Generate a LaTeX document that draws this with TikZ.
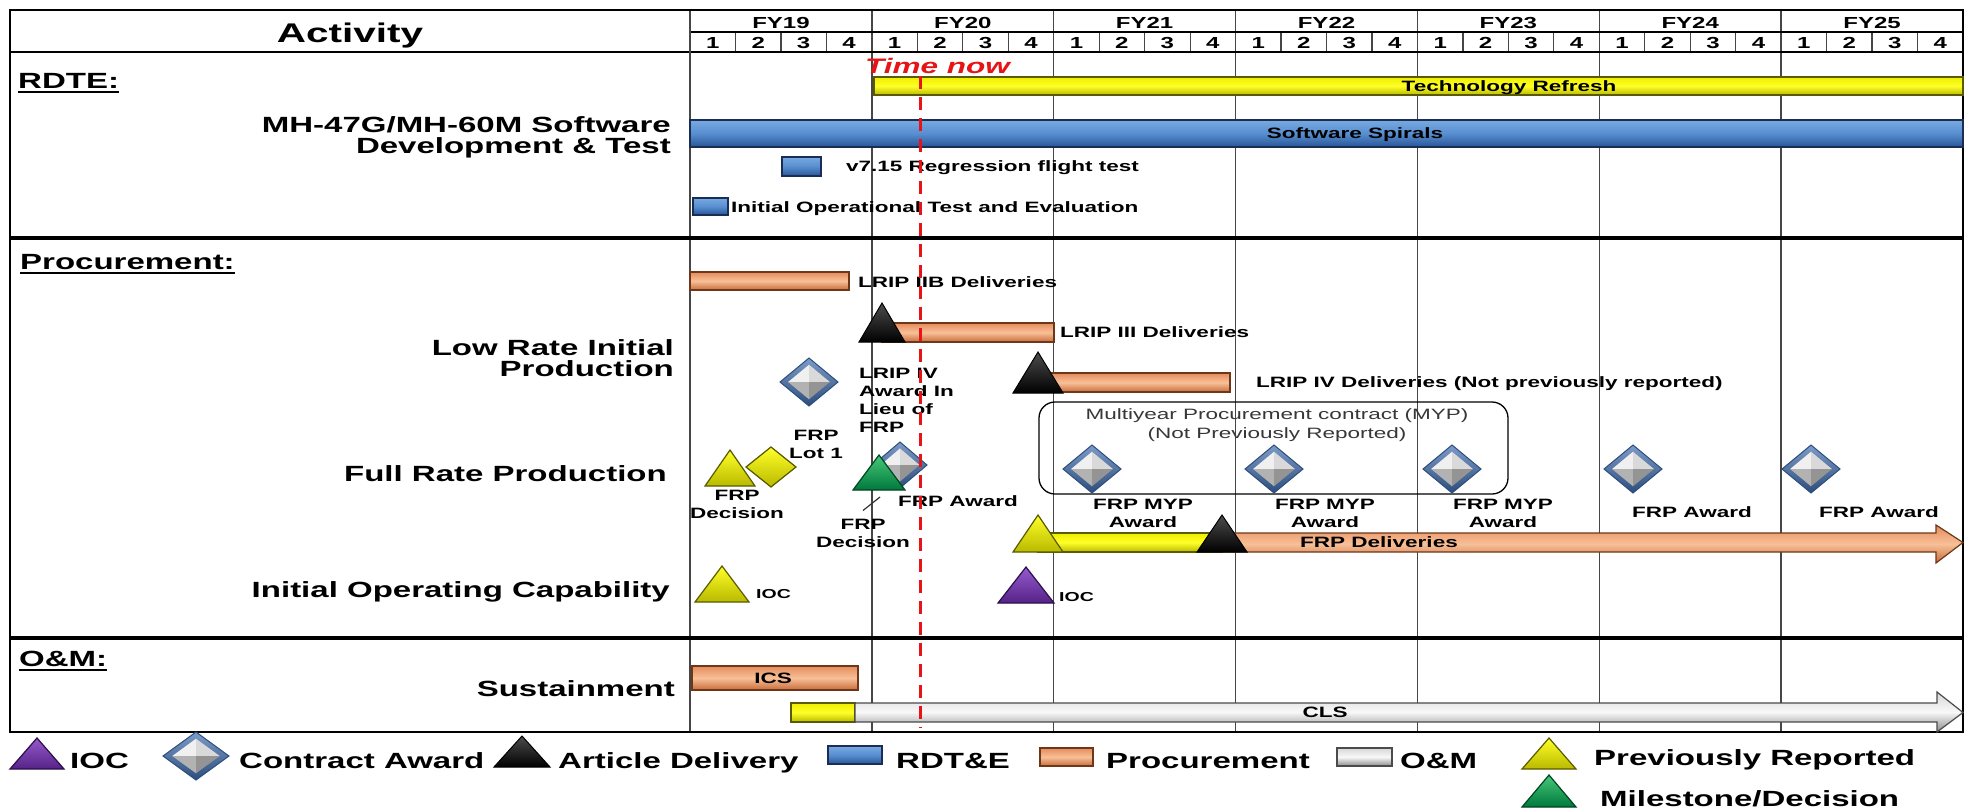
\documentclass[tikz,border=0pt]{standalone}
\usepackage{fontspec}
\setmainfont{Liberation Sans}[FakeStretch=1.5]
\usetikzlibrary{calc}

% bar and marker colours
\definecolor{gridgray}{RGB}{70,70,70}
\definecolor{oTop}{RGB}{228,140,90}
\definecolor{oMid}{RGB}{248,192,152}
\definecolor{oBot}{RGB}{200,108,58}
\definecolor{oEdge}{RGB}{110,55,25}
\definecolor{bTop}{RGB}{120,170,225}
\definecolor{bMid}{RGB}{88,142,208}
\definecolor{bBot}{RGB}{40,85,150}
\definecolor{bEdge}{RGB}{25,45,85}
\definecolor{yTop}{RGB}{238,238,0}
\definecolor{yMid}{RGB}{255,255,40}
\definecolor{yBot}{RGB}{185,185,0}
\definecolor{yEdge}{RGB}{90,90,0}
\definecolor{gTop}{RGB}{215,215,215}
\definecolor{gMid}{RGB}{248,248,248}
\definecolor{gBot}{RGB}{140,140,140}
\definecolor{gEdge}{RGB}{75,75,75}
\definecolor{nowred}{RGB}{230,20,20}
\definecolor{ringTop}{RGB}{125,155,200}
\definecolor{ringBot}{RGB}{45,78,125}
\definecolor{grnTop}{RGB}{70,200,120}
\definecolor{grnBot}{RGB}{0,120,60}
\definecolor{grnEdge}{RGB}{0,70,35}
\definecolor{purTop}{RGB}{150,90,205}
\definecolor{purBot}{RGB}{85,35,135}
\definecolor{purEdge}{RGB}{45,15,75}
\definecolor{mypgray}{RGB}{55,55,55}

\tikzset{
  frame/.style={draw=black, line width=2pt},
  yearline/.style={draw=gridgray, line width=1.5pt},
  qline/.style={draw=gridgray, line width=1.2pt},
  rowline/.style={draw=black, line width=1.5pt},
  secline/.style={draw=black, line width=4.5pt},
  acttitle/.style={inner sep=0pt, anchor=base, font=\bfseries\fontsize{27}{30}\selectfont},
  hdr/.style={inner sep=0pt, anchor=base, font=\bfseries\fontsize{16}{18}\selectfont},
  sect/.style={inner sep=0pt, anchor=base west, font=\bfseries\fontsize{22}{24}\selectfont},
  actlbl/.style={inner sep=0pt, anchor=base east, align=right, font=\bfseries\fontsize{22}{21}\selectfont},
  lbl/.style={inner sep=0pt, font=\bfseries\fontsize{15}{18}\selectfont},
  legtxt/.style={inner sep=0pt, anchor=base west, font=\bfseries\fontsize{22}{24}\selectfont},
  barO/.style={draw=oEdge, line width=1.2pt, top color=oTop, bottom color=oBot, middle color=oMid},
  barB/.style={draw=bEdge, line width=1.2pt, top color=bTop, bottom color=bBot, middle color=bMid},
  barY/.style={draw=yEdge, line width=1.2pt, top color=yTop, bottom color=yBot, middle color=yMid},
  barG/.style={draw=gEdge, line width=1.2pt, top color=gTop, bottom color=gBot, middle color=gMid},
  triY/.style={draw=yEdge, line width=1.2pt, top color=yMid, bottom color=yBot},
  triK/.style={draw=black, line width=1pt, top color=black!70, bottom color=black},
  triG/.style={draw=grnEdge, line width=1.2pt, top color=grnTop, bottom color=grnBot},
  triP/.style={draw=purEdge, line width=1.2pt, top color=purTop, bottom color=purBot},
  diaring/.style={draw=ringBot, line width=1pt, top color=ringTop, bottom color=ringBot},
  diaY/.style={draw=yEdge, line width=1.2pt, top color=yMid, bottom color=yBot},
  nowline/.style={draw=nowred, line width=3pt, dash pattern=on 13pt off 8pt},
  leader/.style={draw=black!80, line width=1.2pt},
  mypbox/.style={draw=black, line width=1.3pt, rounded corners=16pt}
}

% milestone triangle: apex x, apex y, base y, half width, style
\newcommand\mstri[5]{\path[#5] (#1,#2) -- ({#1+#4},#3) -- ({#1-#4},#3) -- cycle;}
% contract award diamond: centre x, centre y, half width, half height
\newcommand\awd[4]{%
  \path[diaring] (#1,{#2-#4}) -- ({#1+#3},#2) -- (#1,{#2+#4}) -- ({#1-#3},#2) -- cycle;
  \fill[black!6]  (#1,#2) -- (#1,{#2-0.72*#4}) -- ({#1-0.72*#3},#2) -- cycle;
  \fill[black!15] (#1,#2) -- (#1,{#2-0.72*#4}) -- ({#1+0.72*#3},#2) -- cycle;
  \fill[black!30] (#1,#2) -- (#1,{#2+0.72*#4}) -- ({#1-0.72*#3},#2) -- cycle;
  \fill[black!42] (#1,#2) -- (#1,{#2+0.72*#4}) -- ({#1+0.72*#3},#2) -- cycle;}
% arrow bar: x start, tip x, top, bottom, head start x, head top, head bottom, style
\newcommand\arrowbar[8]{\path[#8] (#1,#3) -- (#5,#3) -- (#5,#6) -- (#2,{(#3+#4)/2}) -- (#5,#7) -- (#5,#4) -- (#1,#4) -- cycle;}

\begin{document}
\begin{tikzpicture}[x=1pt,y=-1pt]
\useasboundingbox (0,0) rectangle (1967,809);
\fill[white] (0,0) rectangle (1967,809);

% ---------- grid ----------
\foreach \i in {1,...,6}
  \draw[yearline] ({690+181.857*\i},10) -- ({690+181.857*\i},732);
\foreach \q in {1,...,27} {
  \pgfmathtruncatemacro\r{mod(\q,4)}
  \ifnum\r>0 \draw[qline] ({690+45.464*\q},32) -- ({690+45.464*\q},52); \fi
}
\draw[rowline] (10,52) -- (1963,52);
\draw[rowline] (690,32) -- (1963,32);
\draw[yearline] (690,10) -- (690,732);
\draw[secline] (10,238) -- (1963,238);
\draw[secline] (10,638) -- (1963,638);
\draw[frame] (10,10) rectangle (1963,732);

% ---------- header ----------
\node[acttitle] (activity) at (350,42) {Activity};
\foreach \y [count=\i from 0] in {19,...,25}
  \node[hdr] (fy\y) at ({690+181.857*(\i+0.5)},28) {FY\y};
\foreach \q in {0,...,27} {
  \pgfmathtruncatemacro\n{mod(\q,4)+1}
  \node[hdr] (qtr\q) at ({690+45.464*(\q+0.5)},48) {\n};
}

% ---------- section titles ----------
\node[sect] (rdte) at (18,88) {RDTE:};
\draw[line width=2pt] (rdte.base west) ++(0,3.5) -- ($(rdte.base east)+(0,3.5)$);
\node[sect] (proc) at (20,269) {Procurement:};
\draw[line width=2pt] (proc.base west) ++(0,3.5) -- ($(proc.base east)+(0,3.5)$);
\node[sect] (om) at (19,666) {O\&M:};
\draw[line width=2pt] (om.base west) ++(0,3.5) -- ($(om.base east)+(0,3.5)$);

% ---------- activity names (multi-line nodes sit on their last baseline) ----------
\node[actlbl] (swdev) at (671,153) {MH-47G/MH-60M Software\\Development \& Test};
\node[actlbl] (lrip) at (674,376) {Low Rate Initial\\Production};
\node[actlbl] (frp) at (667,481) {Full Rate Production};
\node[actlbl] (ioc) at (670,597) {Initial Operating Capability};
\node[actlbl] (sust) at (675,696) {Sustainment};

% ---------- RDTE ----------
\path[barY] (874,77) rectangle (1963,95);
\node[lbl, anchor=base] (techref) at (1509,91.5) {Technology Refresh};
\path[barB] (690,120) rectangle (1963,147);
\node[lbl, anchor=base] (spirals) at (1355,138) {Software Spirals};
\path[barB] (782,157) rectangle (821,176);
\node[lbl, anchor=base west] (regr) at (846,171) {v7.15 Regression flight test};
\path[barB] (693,198) rectangle (728,215);
\node[lbl, anchor=base west] (iote) at (731,212) {Initial Operational Test and Evaluation};

% ---------- Procurement: LRIP ----------
\path[barO] (690,272) rectangle (849,290);
\node[lbl, anchor=base west] (lripiib) at (858,287) {LRIP IIB Deliveries};
\path[barO] (882,323) rectangle (1054,342);
\mstri{882}{303}{342}{23}{triK}
\node[lbl, anchor=base west] (lripiii) at (1060,337) {LRIP III Deliveries};
\path[barO] (1038,373) rectangle (1230,392);
\mstri{1038}{352}{393}{25}{triK}
\node[lbl, anchor=base west] (lripiv) at (1256,387) {LRIP IV Deliveries (Not previously reported)};
\awd{809}{382}{29}{24}
\node[lbl, anchor=base west, align=left] (lripaward) at (859,432) {LRIP IV\\Award In\\Lieu of\\FRP};

% ---------- Procurement: FRP ----------
\node[lbl, anchor=base, align=center] (frplot) at (816,458) {FRP\\Lot 1};
\path[diaY] (771,447) -- (796,467) -- (771,487) -- (746,467) -- cycle;
\mstri{730}{450}{486}{25}{triY}
\node[lbl, anchor=base, align=center] (frpdecA) at (737,518) {FRP\\Decision};
\awd{900}{465}{27}{23}
\mstri{879}{455}{490}{26}{triG}
\node[lbl, anchor=base west] (frpaward) at (898,506) {FRP Award};
\node[lbl, anchor=base, align=center] (frpdecB) at (863,547) {FRP\\Decision};
\coordinate (gtfoot) at (880,497);
\draw[leader] ([yshift=8pt]frpdecB.north) -- (gtfoot);

\draw[mypbox] (1039,402) rectangle (1508,494);
\node[inner sep=0pt, anchor=base, align=center, text=mypgray,
      font=\fontsize{15}{19}\selectfont] (myp) at (1277,438)
      {Multiyear Procurement contract (MYP)\\(Not Previously Reported)};
\awd{1092}{469}{29}{24}
\awd{1274}{469}{29}{24}
\awd{1452}{469}{29}{24}
\awd{1633}{469}{29}{24}
\awd{1811}{469}{29}{24}
\node[lbl, anchor=base, align=center] (mypa) at (1143,527) {FRP MYP\\Award};
\node[lbl, anchor=base, align=center] (mypb) at (1325,527) {FRP MYP\\Award};
\node[lbl, anchor=base, align=center] (mypc) at (1503,527) {FRP MYP\\Award};
\node[lbl, anchor=base] (frpawd) at (1692,517) {FRP Award};
\node[lbl, anchor=base] (frpawe) at (1879,517) {FRP Award};

\path[barY] (1038,533) rectangle (1222,552);
\arrowbar{1222}{1963}{533}{552}{1936}{525}{563}{barO}
\mstri{1038}{515}{552}{25}{triY}
\mstri{1222}{515}{552}{25}{triK}
\node[lbl, anchor=base] (frpdel) at (1379,547) {FRP Deliveries};

% ---------- IOC ----------
\mstri{722}{566}{602}{27}{triY}
\node[lbl, anchor=base west, font=\bfseries\fontsize{13}{15}\selectfont] (iocA) at (756,598) {IOC};
\mstri{1026}{567}{603}{28}{triP}
\node[lbl, anchor=base west, font=\bfseries\fontsize{13}{15}\selectfont] (iocB) at (1059,601) {IOC};

% ---------- O&M ----------
\path[barO] (692,666) rectangle (858,690);
\node[lbl, anchor=base] (ics) at (773,683) {ICS};
\path[barY] (791,703) rectangle (855,722);
\arrowbar{855}{1963}{703}{722}{1937}{692}{732}{barG}
\node[lbl, anchor=base] (cls) at (1325,717) {CLS};

% ---------- time now ----------
\node[inner sep=0pt, anchor=base west, text=nowred,
      font=\bfseries\itshape\fontsize{21}{24}\selectfont] (timenow) at (865,73) {Time now};
\coordinate (nowtop) at (920,76);
\coordinate (nowbot) at (920,728);
\draw[nowline] (nowtop) -- (nowbot);

% ---------- legend ----------
\mstri{37}{738}{769}{27}{triP}
\node[legtxt] (legioc) at (70,768) {IOC};
\awd{196}{756}{33}{24}
\node[legtxt] (legaward) at (239,768) {Contract Award};
\mstri{522}{736}{767}{28}{triK}
\node[legtxt] (legart) at (558,768) {Article Delivery};
\path[barB] (828,746) rectangle (882,764);
\node[legtxt] (legrdte) at (896,768) {RDT\&E};
\path[barO] (1040,748) rectangle (1093,766);
\node[legtxt] (legproc) at (1106,768) {Procurement};
\path[barG] (1337,748) rectangle (1392,766);
\node[legtxt] (legom) at (1400,768) {O\&M};
\mstri{1549}{738}{769}{27}{triY}
\node[legtxt] (legprev) at (1594,765) {Previously Reported};
\mstri{1549}{775}{807}{27}{triG}
\node[legtxt] (legmile) at (1600,806) {Milestone/Decision};
\end{tikzpicture}
\end{document}
